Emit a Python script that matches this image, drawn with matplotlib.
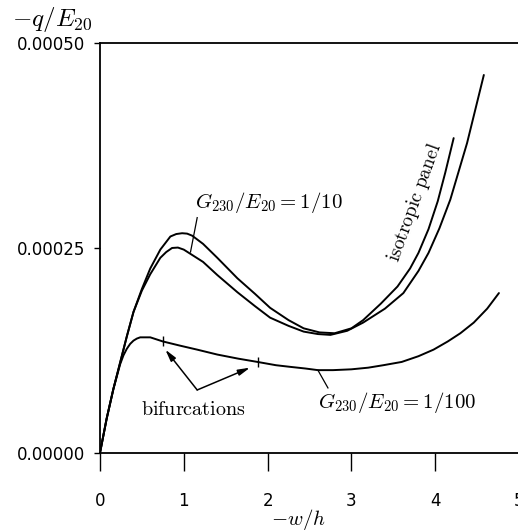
import matplotlib
matplotlib.use('Agg')
import matplotlib.pyplot as plt

plt.rcParams['mathtext.fontset'] = 'cm'
plt.rcParams['font.family'] = ['DejaVu Sans']

# isotropic panel
iso_x = [0, 0.08, 0.16, 0.24, 0.32, 0.40, 0.50, 0.60, 0.72, 0.84, 0.91, 0.98,
         1.04, 1.10, 1.23, 1.40, 1.64, 1.85, 2.03, 2.25, 2.43, 2.62, 2.80, 3.00,
         3.14, 3.35, 3.55, 3.70, 3.80, 3.92, 4.03, 4.12, 4.22]
iso_q = [0, 0.42, 0.78, 1.10, 1.42, 1.72, 2.00, 2.25, 2.48, 2.64, 2.67, 2.68,
         2.675, 2.65, 2.55, 2.38, 2.13, 1.94, 1.77, 1.62, 1.52, 1.47, 1.46, 1.52,
         1.62, 1.82, 2.03, 2.25, 2.44, 2.73, 3.07, 3.42, 3.84]

# G230/E20 = 1/10
g10_x = [0, 0.08, 0.16, 0.24, 0.32, 0.40, 0.50, 0.60, 0.72, 0.79, 0.86, 0.93,
         1.00, 1.23, 1.40, 1.64, 1.85, 2.03, 2.25, 2.43, 2.60, 2.75, 2.95, 3.14,
         3.40, 3.62, 3.80, 3.92, 4.05, 4.18, 4.38, 4.58]
g10_q = [0, 0.42, 0.78, 1.10, 1.42, 1.72, 1.98, 2.18, 2.38, 2.45, 2.50, 2.505,
         2.48, 2.33, 2.17, 1.96, 1.79, 1.65, 1.55, 1.48, 1.45, 1.44, 1.49, 1.59,
         1.76, 1.95, 2.22, 2.44, 2.74, 3.09, 3.78, 4.61]

# G230/E20 = 1/100
g100_x = [0, 0.08, 0.16, 0.24, 0.28, 0.32, 0.36, 0.40, 0.44, 0.48, 0.60, 0.75,
          0.95, 1.16, 1.40, 1.65, 1.88, 2.10, 2.27, 2.45, 2.60, 2.78, 3.00, 3.20,
          3.38, 3.60, 3.80, 3.98, 4.15, 4.30, 4.46, 4.62, 4.76]
g100_q = [0, 0.42, 0.78, 1.08, 1.19, 1.27, 1.33, 1.37, 1.395, 1.41, 1.41, 1.36,
          1.31, 1.26, 1.20, 1.15, 1.11, 1.07, 1.05, 1.03, 1.01, 1.01, 1.02, 1.04,
          1.07, 1.11, 1.18, 1.26, 1.36, 1.46, 1.59, 1.76, 1.95]

# bifurcation points on the 1/100 curve
bif_x = [0.75, 1.88]
bif_q = [1.36, 1.11]

scale = 1e-4

fig = plt.figure(figsize=(5.18, 5.31), dpi=100)
ax = fig.add_axes([0.193, 0.147, 0.809, 0.772])

for xs, qs in [(iso_x, iso_q), (g10_x, g10_q), (g100_x, g100_q)]:
    ax.plot(xs, [q * scale for q in qs], color='black', lw=1.4,
            solid_joinstyle='round', solid_capstyle='round')
ax.plot(bif_x, [q * scale for q in bif_q], ls='none', marker='|',
        markersize=7, mew=1.0, color='black')

ax.set_xlim(0, 5)
ax.set_ylim(0, 0.0005)
ax.set_xticks([0, 1, 2, 3, 4, 5])
ax.set_yticks([0, 0.00025, 0.0005])
ax.set_yticklabels(['0.00000', '0.00025', '0.00050'])
ax.tick_params(axis='x', direction='out', length=13, width=1.0, pad=15,
               labelsize=12)
ax.tick_params(axis='y', direction='out', length=4.5, width=1.0, pad=6,
               labelsize=12)
ax.spines['right'].set_visible(False)
for s in ['left', 'top', 'bottom']:
    ax.spines[s].set_linewidth(1.3)

# labels
fig.text(52 / 518, 1 - 19 / 531, r'$-q/E_{20}$', fontsize=18,
         ha='center', va='center')
fig.text(298 / 518, 1 - 519 / 531, r'$-w/h$', fontsize=15,
         ha='center', va='center')

ax.text(2.01, 0.000305, r'$G_{230}/E_{20}=1/10$', fontsize=15,
        ha='center', va='center')
ax.plot([1.16, 1.08], [0.000287, 0.000245], color='black', lw=0.9)

ax.text(3.54, 0.000061, r'$G_{230}/E_{20}=1/100$', fontsize=15,
        ha='center', va='center')
ax.plot([2.72, 2.60], [0.0000793, 0.000101], color='black', lw=0.9)

ax.text(3.76, 0.000305, r'$\mathrm{isotropic\ panel}$', fontsize=14,
        rotation=70, ha='center', va='center')

ax.text(1.11, 0.0000524, r'$\mathrm{bifurcations}$', fontsize=14.5,
        ha='center', va='center')
for tx, tq in [(0.78, 0.000126), (1.79, 0.000104)]:
    ax.annotate('', xy=(tx, tq), xytext=(1.16, 0.0000768),
                arrowprops=dict(arrowstyle='-|>,head_length=0.7,head_width=0.18',
                                color='black', lw=1.1, shrinkA=0, shrinkB=0))

fig.savefig('out.png', dpi=100)
